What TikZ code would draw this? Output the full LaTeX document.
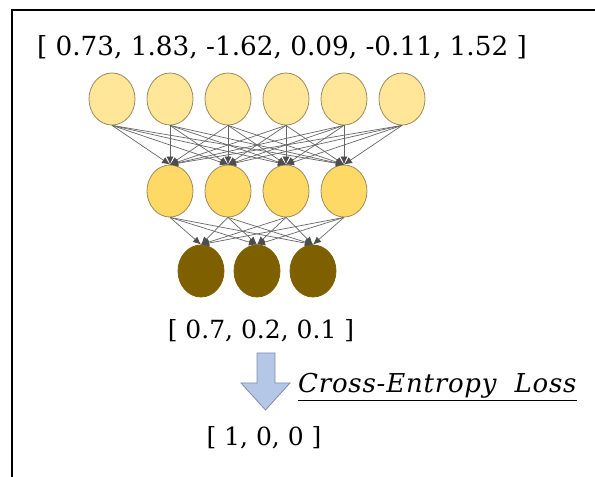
\documentclass[tikz,border=0pt]{standalone}
\usepackage{fontspec}
\setmainfont{DejaVu Serif}
\usepackage{xcolor}
\usetikzlibrary{arrows.meta,shapes.geometric,calc}
\definecolor{inputfill}{HTML}{FFE699}
\definecolor{hiddenfill}{HTML}{FFD966}
\definecolor{outputfill}{HTML}{7F6000}
\definecolor{neuronedge}{HTML}{9C8B5E}
\definecolor{linkgray}{HTML}{666666}
\definecolor{tipgray}{HTML}{4D4D4D}
\definecolor{arrowfill}{HTML}{B4C7E7}
\definecolor{arrowedge}{HTML}{7F8FA9}
\tikzset{>={Latex[length=8pt,width=7pt,color=tipgray]}}
\tikzset{
  neuron/.style={ellipse,draw=neuronedge,line width=0.8pt,minimum width=46pt,minimum height=52pt,inner sep=0pt},
  link/.style={draw=linkgray,line width=0.7pt},
  vector/.style={font=\fontsize{25}{30}\selectfont,inner sep=0pt}
}

\begin{document}
\begin{tikzpicture}[x=1pt,y=1pt]
  \useasboundingbox (0,0) rectangle (595,477);
  % Frame
  \draw[line width=1.5pt] (12,0) -- (12,467) -- (595,467);
  % Neurons
  \foreach \i in {1,...,6}
    \node[neuron,fill=inputfill] (in\i) at ({54+58*\i},378) {};
  \foreach \i in {1,...,4}
    \node[neuron,fill=hiddenfill] (hid\i) at ({112+58*\i},286) {};
  \foreach \i in {1,...,3}
    \node[neuron,fill=outputfill,draw=outputfill] (out\i) at ({145+56*\i},206) {};
  % Links
  \foreach \i in {1,...,6}
    \foreach \j in {1,...,4}
      \draw[link,->] (in\i.south) -- (hid\j.north);
  \foreach \i in {1,...,4}
    \foreach \j in {1,...,3}
      \draw[link,->] (hid\i.south) -- (out\j.north);
  % Vectors
  \node[vector,font=\fontsize{26.3}{30}\selectfont] (inputs) at (282,430) {[ 0.73, 1.83, -1.62, 0.09, -0.11, 1.52 ]};
  \node[vector] (pred) at (261,146) {[ 0.7, 0.2, 0.1 ]};
  \node[vector] (target) at (264,39) {[ 1, 0, 0 ]};
  % Loss arrow
  \draw[fill=arrowfill,draw=arrowedge,line width=0.8pt]
    (257,124) -- (275,124) -- (275,94) -- (290,94) -- (265.5,67) -- (241,94) -- (257,94) -- cycle;
  \node[vector,anchor=base west,font=\fontsize{26}{30}\selectfont\addfontfeatures{LetterSpace=3}] (loss) at (298,84) {\underline{\textit{Cross-Entropy~~Loss}}};
\end{tikzpicture}
\end{document}
